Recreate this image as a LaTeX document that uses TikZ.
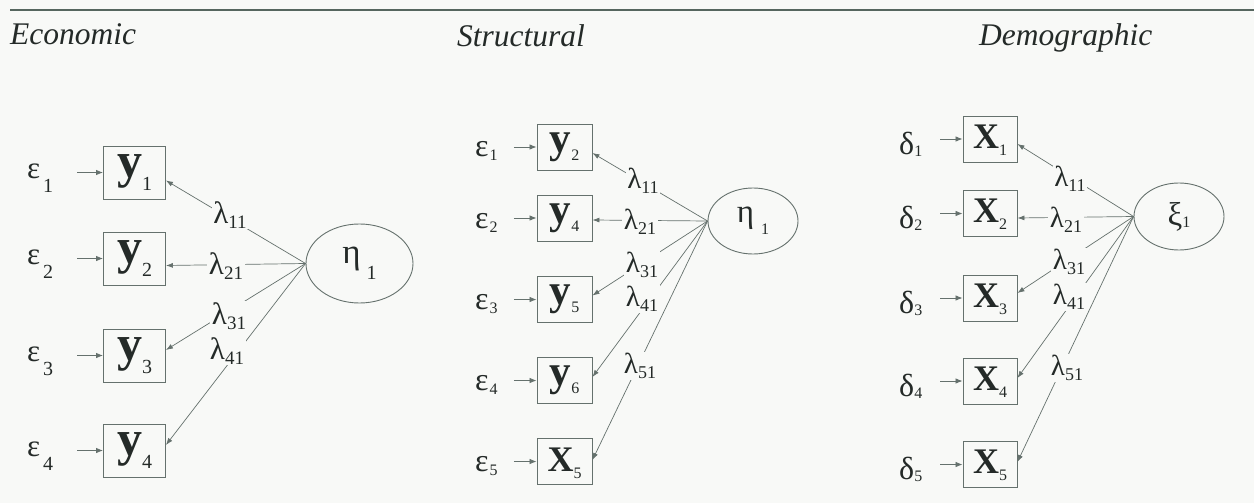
\documentclass[tikz,border=0pt]{standalone}
\usepackage{fontspec}
\setmainfont{Liberation Serif}
\usetikzlibrary{arrows.meta,shapes.geometric}
\definecolor{bg}{HTML}{F8F9F7}
\definecolor{ln}{HTML}{65716D}
\definecolor{tx}{HTML}{242a28}
\definecolor{rulec}{HTML}{56665F}
\newcommand{\fs}[1]{\fontsize{#1}{#1}\selectfont}
\newcommand{\lowsub}[3]{\raisebox{-#2}{\fs{#1}#3}}
\begin{document}
\begin{tikzpicture}[x=1pt,y=-1pt,
  every node/.style={text=tx, inner sep=0pt},
  boxA/.style={draw=ln, line width=0.9pt, minimum width=62pt, minimum height=53pt, text height=31pt, text depth=22pt},
  boxB/.style={draw=ln, line width=0.9pt, minimum width=55pt, minimum height=46pt, text height=28pt, text depth=18pt},
  boxBX/.style={boxB, text height=33pt, text depth=13pt},
  boxC/.style={draw=ln, line width=0.9pt, minimum width=54pt, minimum height=46pt, text height=32pt, text depth=14pt},
  latA/.style={draw=ln, line width=0.9pt, ellipse, minimum width=107pt, minimum height=79pt},
  latB/.style={draw=ln, line width=0.9pt, ellipse, minimum width=90pt, minimum height=66pt},
  errlab/.style={anchor=base west},
  lamlab/.style={fill=bg, inner xsep=1.5pt, inner ysep=1pt},
  load/.style={draw=ln, line width=0.7pt, -{Latex[length=7pt,width=5pt]}},
  errarr/.style={draw=ln, line width=0.8pt, -{Latex[length=7pt,width=5.5pt]}},
  ttl/.style={anchor=base west, font=\fs{31.5}\itshape}
]
\fill[bg] (0,0) rectangle (1254,503);
\useasboundingbox (0,0) rectangle (1254,503);
\draw[rulec, line width=2.6pt] (10,10) -- (1254,10);

% titles
\node[ttl] (t1) at (10,45) {Economic};
\node[ttl] (t2) at (457,47) {Structural};
\node[ttl] (t3) at (979,46) {Demographic};

% ---------------- Panel 1: Economic ----------------
\node[boxA] (y11) at (134.5,172.5) {{\fs{50}\bfseries y}\lowsub{20}{13pt}{1}};
\node[boxA] (y12) at (134.5,258.5) {{\fs{50}\bfseries y}\lowsub{20}{13pt}{2}};
\node[boxA] (y13) at (134.5,355.5) {{\fs{50}\bfseries y}\lowsub{20}{13pt}{3}};
\node[boxA] (y14) at (134.5,450.5) {{\fs{50}\bfseries y}\lowsub{20}{13pt}{4}};
\node[errlab] (e11) at (27,178) {{\fs{31}ε}\hspace{3pt}\lowsub{20}{14pt}{1}};
\node[errlab] (e12) at (27,264) {{\fs{31}ε}\hspace{3pt}\lowsub{20}{14pt}{2}};
\node[errlab] (e13) at (27,361) {{\fs{31}ε}\hspace{3pt}\lowsub{20}{14pt}{3}};
\node[errlab] (e14) at (27,456) {{\fs{31}ε}\hspace{3pt}\lowsub{20}{14pt}{4}};
\foreach \i in {1,...,4}{
  \draw[errarr] (e1\i.east |- y1\i.west) ++(24,0) -- (y1\i.west);
}
\node[latA] (lat1) at (359.5,263.5) {{\fs{35}η}\hspace{6pt}\lowsub{20}{16pt}{1}};
\draw[load] (lat1.west) -- ([yshift=-8pt]y11.east);
\draw[load] (lat1.west) -- ([yshift=-7pt]y12.east);
\draw[load] (lat1.west) -- ([yshift=5.5pt]y13.east);
\draw[load] (lat1.west) -- ([yshift=5.5pt]y14.east);
\node[lamlab] (l11) at (230,215) {{\fs{31}λ}\lowsub{19}{5pt}{11}};
\node[lamlab] (l12) at (226,266) {{\fs{31}λ}\lowsub{19}{5pt}{21}};
\node[lamlab] (l13) at (229,316) {{\fs{31}λ}\lowsub{19}{5pt}{31}};
\node[lamlab] (l14) at (227,351) {{\fs{31}λ}\lowsub{19}{5pt}{41}};

% ---------------- Panel 2: Structural ----------------
\node[boxB] (y21) at (564.5,147) {{\fs{43}\bfseries y}\lowsub{16}{8pt}{2}};
\node[boxB] (y22) at (564.5,218) {{\fs{43}\bfseries y}\lowsub{16}{8pt}{4}};
\node[boxB] (y23) at (564.5,299.5) {{\fs{43}\bfseries y}\lowsub{16}{8pt}{5}};
\node[boxB] (y24) at (564.5,380.5) {{\fs{43}\bfseries y}\lowsub{16}{8pt}{6}};
\node[boxBX] (y25) at (564.5,461.5) {{\fs{36}\bfseries X}\lowsub{16}{7pt}{5}};
\node[errlab] (e21) at (475,157) {{\fs{32}ε}\hspace{1pt}\lowsub{16}{4pt}{1}};
\node[errlab] (e22) at (475,228) {{\fs{32}ε}\hspace{1pt}\lowsub{16}{4pt}{2}};
\node[errlab] (e23) at (475,309.5) {{\fs{32}ε}\hspace{1pt}\lowsub{16}{4pt}{3}};
\node[errlab] (e24) at (475,390.5) {{\fs{32}ε}\hspace{1pt}\lowsub{16}{4pt}{4}};
\node[errlab] (e25) at (475,471.5) {{\fs{32}ε}\hspace{1pt}\lowsub{16}{4pt}{5}};
\foreach \i in {1,...,5}{
  \draw[errarr] (e2\i.east |- y2\i.west) ++(16,0) -- (y2\i.west);
}
\node[latB] (lat2) at (753,221) {{\fs{33}η}\hspace{7pt}\lowsub{16}{12pt}{1}};
\draw[load] (lat2.west) -- ([yshift=-6pt]y21.east);
\draw[load] (lat2.west) -- ([yshift=-2pt]y22.east);
\draw[load] (lat2.west) -- ([yshift=4pt]y23.east);
\draw[load] (lat2.west) -- ([yshift=3.5pt]y24.east);
\draw[load] (lat2.west) -- ([yshift=1.5pt]y25.east);
\node[lamlab] (l21) at (643,181) {{\fs{29}λ}\lowsub{18}{5pt}{11}};
\node[lamlab] (l22) at (640,222) {{\fs{29}λ}\lowsub{18}{5pt}{21}};
\node[lamlab] (l23) at (642,265) {{\fs{29}λ}\lowsub{18}{5pt}{31}};
\node[lamlab] (l24) at (642,299) {{\fs{29}λ}\lowsub{18}{5pt}{41}};
\node[lamlab] (l25) at (640,366) {{\fs{29}λ}\lowsub{18}{5pt}{51}};

% ---------------- Panel 3: Demographic ----------------
\node[boxC] (x31) at (990,139) {{\fs{36}\bfseries X}\lowsub{16}{7pt}{1}};
\node[boxC] (x32) at (990,213.5) {{\fs{36}\bfseries X}\lowsub{16}{7pt}{2}};
\node[boxC] (x33) at (990,298) {{\fs{36}\bfseries X}\lowsub{16}{7pt}{3}};
\node[boxC] (x34) at (990,381) {{\fs{36}\bfseries X}\lowsub{16}{7pt}{4}};
\node[boxC] (x35) at (990,464.5) {{\fs{36}\bfseries X}\lowsub{16}{7pt}{5}};
\node[errlab] (d31) at (899,154) {{\fs{32}δ}\lowsub{16}{2pt}{1}};
\node[errlab] (d32) at (899,228.5) {{\fs{32}δ}\lowsub{16}{2pt}{2}};
\node[errlab] (d33) at (899,313) {{\fs{32}δ}\lowsub{16}{2pt}{3}};
\node[errlab] (d34) at (899,396) {{\fs{32}δ}\lowsub{16}{2pt}{4}};
\node[errlab] (d35) at (899,479.5) {{\fs{32}δ}\lowsub{16}{2pt}{5}};
\foreach \i in {1,...,5}{
  \draw[errarr] (d3\i.east |- x3\i.west) ++(18,0) -- (x3\i.west);
}
\node[latB, minimum height=67pt] (lat3) at (1179,216.5) {{\fs{33}ξ}\lowsub{16}{2pt}{1}};
\draw[load] (lat3.west) -- ([yshift=-5pt]x31.east);
\draw[load] (lat3.west) -- ([yshift=-4.5pt]x32.east);
\draw[load] (lat3.west) -- ([yshift=5pt]x33.east);
\draw[load] (lat3.west) -- ([yshift=3pt]x34.east);
\draw[load] (lat3.west) -- ([yshift=2.5pt]x35.east);
\node[lamlab] (l31) at (1070,179) {{\fs{29}λ}\lowsub{18}{5pt}{11}};
\node[lamlab] (l32) at (1066,220) {{\fs{29}λ}\lowsub{18}{5pt}{21}};
\node[lamlab] (l33) at (1069,262) {{\fs{29}λ}\lowsub{18}{5pt}{31}};
\node[lamlab] (l34) at (1069,297) {{\fs{29}λ}\lowsub{18}{5pt}{41}};
\node[lamlab] (l35) at (1067,368) {{\fs{29}λ}\lowsub{18}{5pt}{51}};
\end{tikzpicture}
\end{document}
